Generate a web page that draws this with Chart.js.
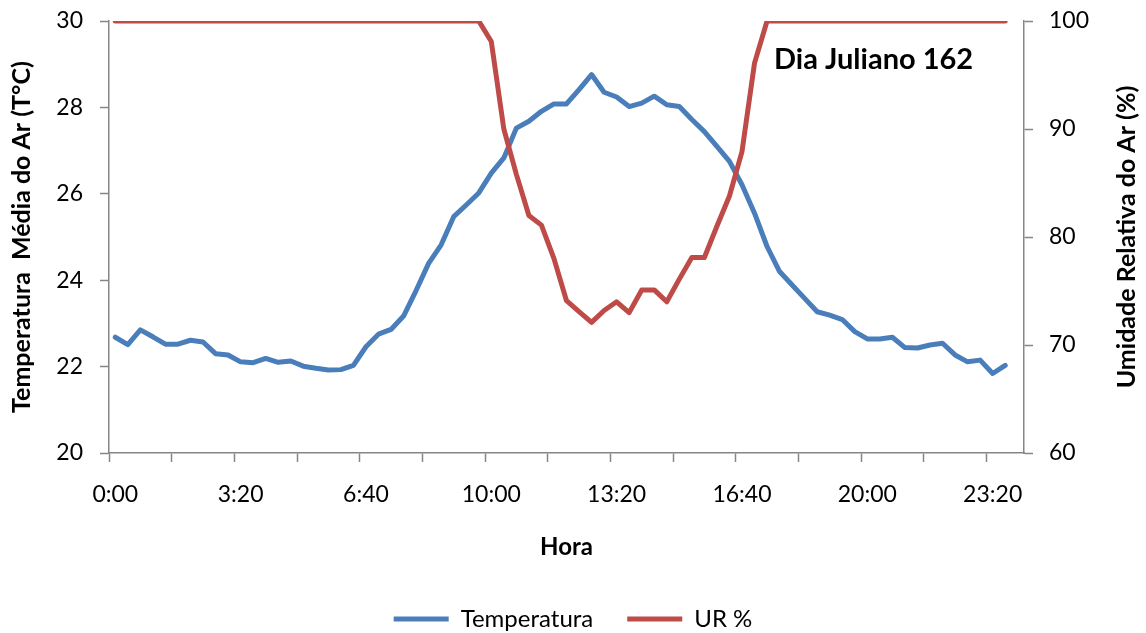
<!DOCTYPE html>
<html>
<head>
<meta charset="utf-8">
<script src="https://cdn.jsdelivr.net/npm/chart.js@4"></script>
<style>
    html, body { margin: 0; padding: 0; background: #fff; }
    #wrap { width: 1146px; height: 633px; }
</style>
</head>
<body>
<div id="wrap"><canvas id="grafico"></canvas></div>
<script>
// --- DADOS ---
const horas = [
    '0:00', '0:20', '0:40', '1:00', '1:20', '1:40', '2:00', '2:20', '2:40', '3:00',
    '3:20', '3:40', '4:00', '4:20', '4:40', '5:00', '5:20', '5:40', '6:00', '6:20',
    '6:40', '7:00', '7:20', '7:40', '8:00', '8:20', '8:40', '9:00', '9:20', '9:40',
    '10:00', '10:20', '10:40', '11:00', '11:20', '11:40', '12:00', '12:20', '12:40', '13:00',
    '13:20', '13:40', '14:00', '14:20', '14:40', '15:00', '15:20', '15:40', '16:00', '16:20',
    '16:40', '17:00', '17:20', '17:40', '18:00', '18:20', '18:40', '19:00', '19:20', '19:40',
    '20:00', '20:20', '20:40', '21:00', '21:20', '21:40', '22:00', '22:20', '22:40', '23:00',
    '23:20', '23:40', '24:00'
];

const temperatura = [
    22.68, 22.51, 22.85, 22.69, 22.52, 22.52, 22.61, 22.57, 22.30, 22.27,
    22.11, 22.09, 22.19, 22.10, 22.13, 22.01, 21.96, 21.92, 21.93, 22.03,
    22.46, 22.75, 22.86, 23.17, 23.76, 24.39, 24.82, 25.47, 25.74, 26.02,
    26.48, 26.83, 27.52, 27.68, 27.91, 28.08, 28.08, 28.41, 28.76, 28.35,
    28.24, 28.02, 28.10, 28.26, 28.06, 28.02, 27.72, 27.44, 27.10, 26.75,
    26.21, 25.55, 24.78, 24.20, 23.89, 23.58, 23.27, 23.19, 23.09, 22.81,
    22.64, 22.64, 22.68, 22.44, 22.43, 22.50, 22.54, 22.27, 22.11, 22.15,
    21.84, 22.03
];

const umidade = [
    100, 100, 100, 100, 100, 100, 100, 100, 100, 100,
    100, 100, 100, 100, 100, 100, 100, 100, 100, 100,
    100, 100, 100, 100, 100, 100, 100, 100, 100, 100,
    98.1, 90, 85.8, 82, 81.1, 78, 74.1, 73.1, 72.1, 73.2,
    74, 73, 75.1, 75.1, 74, 76.1, 78.1, 78.1, 81, 83.8,
    87.9, 96.1, 100, 100, 100, 100, 100, 100, 100, 100,
    100, 100, 100, 100, 100, 100, 100, 100, 100, 100,
    100, 100
];

const corTemp = '#4A7EBB';
const corUR = '#BE4B48';
const corEixo = '#868686';

// Textos que o Chart.js não posiciona como no original
const textosExtras = {
    id: 'textosExtras',
    afterDraw(chart) {
        const ctx = chart.ctx;
        const area = chart.chartArea;
        ctx.save();
        ctx.fillStyle = '#000';
        ctx.font = 'bold 29px Lato';
        ctx.textAlign = 'left';
        ctx.textBaseline = 'alphabetic';
        ctx.fillText('Dia Juliano 162', 774, 69);

        // título do eixo direito, lido de baixo para cima
        ctx.translate(1127, (area.top + area.bottom) / 2);
        ctx.rotate(-Math.PI / 2);
        ctx.font = 'bold 25px Lato';
        ctx.textAlign = 'center';
        ctx.textBaseline = 'middle';
        ctx.fillText('Umidade Relativa do Ar (%)', 0, 0);
        ctx.restore();
    }
};

// largura fixa do eixo vertical, sem a folga extra dos rótulos no topo
const fixarEixoY = largura => s => {
    s.width = largura;
    s.paddingTop = 0;
    s.paddingBottom = 0;
};

function desenhar() {
    Chart.defaults.font.family = 'Lato';
    Chart.defaults.color = '#000';

    new Chart(document.getElementById('grafico'), {
        type: 'line',
        data: {
            labels: horas,
            datasets: [
                {
                    label: 'Temperatura',
                    data: temperatura,
                    yAxisID: 'y',
                    borderColor: corTemp,
                    backgroundColor: corTemp,
                    borderWidth: 5,
                    pointRadius: 0,
                    tension: 0,
                    borderJoinStyle: 'round',
                    borderCapStyle: 'round',
                    order: 2
                },
                {
                    label: 'UR %',
                    data: umidade,
                    yAxisID: 'y1',
                    borderColor: corUR,
                    backgroundColor: corUR,
                    borderWidth: 5,
                    pointRadius: 0,
                    tension: 0,
                    borderJoinStyle: 'round',
                    borderCapStyle: 'round',
                    order: 1
                }
            ]
        },
        options: {
            responsive: true,
            maintainAspectRatio: false,
            animation: false,
            layout: { padding: { left: 0, right: 0, top: 21, bottom: -8 } },
            plugins: {
                legend: {
                    position: 'bottom',
                    labels: {
                        usePointStyle: true,
                        pointStyle: 'line',
                        pointStyleWidth: 55,
                        padding: 34,
                        font: { size: 24 },
                        color: '#000',
                        sort: (a, b) => a.datasetIndex - b.datasetIndex
                    }
                },
                tooltip: { enabled: false }
            },
            scales: {
                x: {
                    offset: true,
                    afterFit: s => { s.height = 120; },
                    grid: {
                        offset: true,
                        drawOnChartArea: false,
                        tickLength: 9,
                        tickWidth: 1.5,
                        tickColor: c => (c.index % 5 === 0 ? corEixo : 'transparent')
                    },
                    border: { color: corEixo, width: 1.5 },
                    ticks: {
                        autoSkip: false,
                        maxRotation: 0,
                        padding: 19,
                        font: { size: 23 },
                        callback: (v, i) => (i % 10 === 0 ? horas[i] : '')
                    },
                    title: {
                        display: true,
                        text: 'Hora',
                        font: { size: 24, weight: 'bold' },
                        padding: { top: 0, bottom: 11 }
                    }
                },
                y: {
                    position: 'left',
                    min: 20,
                    max: 30,
                    afterFit: fixarEixoY(109),
                    grid: { drawOnChartArea: false, tickLength: 9, tickWidth: 1.5, tickColor: corEixo },
                    border: { color: corEixo, width: 1.5 },
                    ticks: { stepSize: 2, padding: 17, font: { size: 23 } },
                    title: {
                        display: true,
                        text: 'Temperatura  Média do Ar (T°C)',
                        font: { size: 25, weight: 'bold' },
                        padding: { top: 7, bottom: 0 }
                    }
                },
                y1: {
                    position: 'right',
                    min: 60,
                    max: 100,
                    afterFit: fixarEixoY(122),
                    grid: { drawOnChartArea: false, tickLength: 9, tickWidth: 1.5, tickColor: corEixo },
                    border: { color: corEixo, width: 1.5 },
                    ticks: { stepSize: 10, padding: 16, font: { size: 23 } }
                }
            }
        },
        plugins: [textosExtras]
    });
}

Promise.all([
    document.fonts.load('23px Lato'),
    document.fonts.load('bold 25px Lato')
]).then(desenhar, desenhar);
</script>
</body>
</html>
